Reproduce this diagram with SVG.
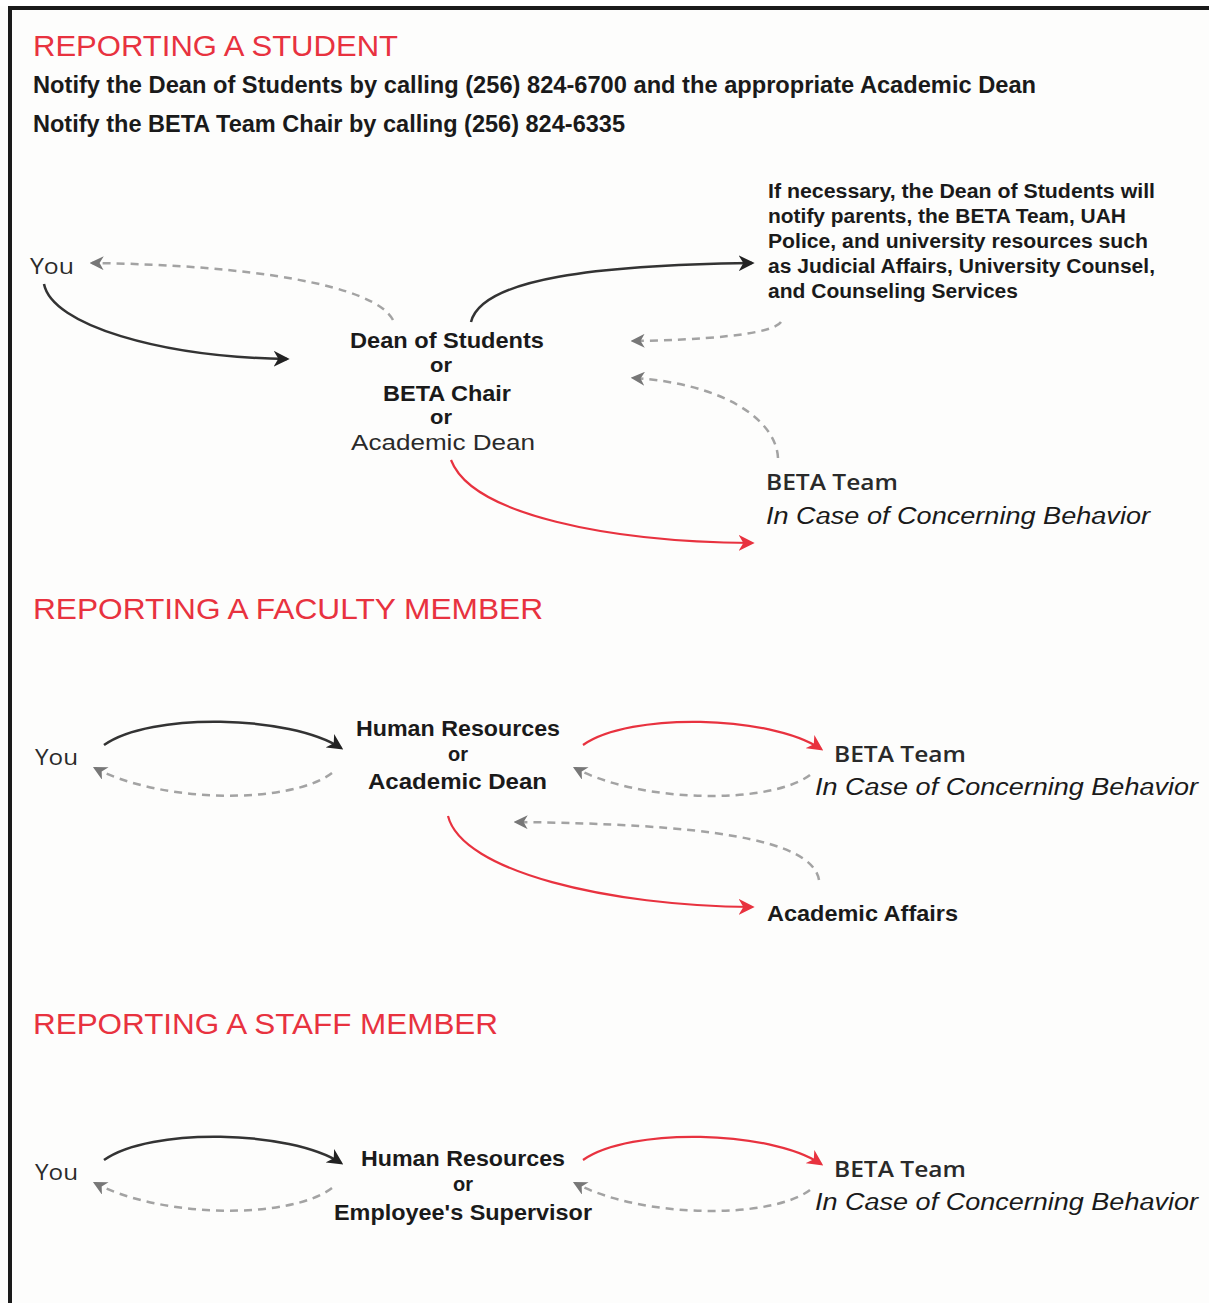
<svg xmlns="http://www.w3.org/2000/svg" width="1209" height="1303" viewBox="0 0 1209 1303">
<defs>
<style>
.h{font-family:"Liberation Sans",Arial,sans-serif;font-size:29px;fill:#e8323f;}
.b{font-family:"Liberation Sans",Arial,sans-serif;font-weight:bold;fill:#1a1a1a;}
.r{font-family:"Open Sans","Liberation Sans",sans-serif;fill:#2a2a2a;}
.l{font-family:"Liberation Sans",Arial,sans-serif;fill:#2a2a2a;}
.i{font-family:"Liberation Sans",Arial,sans-serif;font-style:italic;font-size:23px;fill:#1a1a1a;}
.solid{fill:none;stroke:#333;stroke-width:2.5;}
.red{fill:none;stroke:#e8323f;stroke-width:2.2;}
.dash{fill:none;stroke:#a3a3a3;stroke-width:2.5;stroke-dasharray:8 6;}
</style>
<marker id="ad" viewBox="0 0 12 12" refX="10" refY="6" markerWidth="16" markerHeight="16" markerUnits="userSpaceOnUse" orient="auto"><path d="M0,0 L12,6 L0,12 L3.5,6 z" fill="#222"/></marker>
<marker id="ar" viewBox="0 0 12 12" refX="10" refY="6" markerWidth="16" markerHeight="16" markerUnits="userSpaceOnUse" orient="auto"><path d="M0,0 L12,6 L0,12 L3.5,6 z" fill="#e8323f"/></marker>
<marker id="ag" viewBox="0 0 12 12" refX="10" refY="6" markerWidth="14" markerHeight="14" markerUnits="userSpaceOnUse" orient="auto"><path d="M0,0 L12,6 L0,12 L3.5,6 z" fill="#777"/></marker>
</defs>
<rect x="0" y="0" width="1209" height="1303" fill="#fdfdfc"/>
<rect x="0" y="0" width="1209" height="6" fill="#ffffff"/>
<line x1="8" y1="8" x2="1209" y2="8" stroke="#1a1a1a" stroke-width="4"/>
<line x1="10" y1="6" x2="10" y2="1303" stroke="#1a1a1a" stroke-width="4"/>

<g id="headings">
<text class="h" x="33" y="56" textLength="365" lengthAdjust="spacingAndGlyphs">REPORTING A STUDENT</text>
<text class="b" x="33" y="93" font-size="23" textLength="1003" lengthAdjust="spacingAndGlyphs">Notify the Dean of Students by calling (256) 824-6700 and the appropriate Academic Dean</text>
<text class="b" x="33" y="132" font-size="23" textLength="592" lengthAdjust="spacingAndGlyphs">Notify the BETA Team Chair by calling (256) 824-6335</text>
<text class="h" x="33" y="619" textLength="510" lengthAdjust="spacingAndGlyphs">REPORTING A FACULTY MEMBER</text>
<text class="h" x="33" y="1034" textLength="465" lengthAdjust="spacingAndGlyphs">REPORTING A STAFF MEMBER</text>
</g>

<g id="connectors">
<!-- section 1 -->
<path class="solid" d="M44,284 C52,325 160,357 287,359" marker-end="url(#ad)"/>
<path class="dash" d="M393,320 C375,285 250,265 92,263" marker-end="url(#ag)"/>
<path class="solid" d="M471,322 C482,278 600,265 752,263" marker-end="url(#ad)"/>
<path class="dash" d="M781,322 C772,335 700,340 633,341" marker-end="url(#ag)"/>
<path class="dash" d="M778,458 C776,418 720,383 633,378" marker-end="url(#ag)"/>
<path class="red" d="M451,460 C472,515 610,542 752,543" marker-end="url(#ar)"/>
<!-- section 2 -->
<path class="solid" d="M104,745 C150,712 290,715 341,748" marker-end="url(#ad)"/>
<path class="dash" d="M332,773 C290,805 160,803 95,768" marker-end="url(#ag)"/>
<path class="red" d="M583,745 C630,712 770,715 821,749" marker-end="url(#ar)"/>
<path class="dash" d="M810,775 C770,805 640,803 575,768" marker-end="url(#ag)"/>
<path class="dash" d="M819,880 C812,838 700,824 516,822" marker-end="url(#ag)"/>
<path class="red" d="M448,816 C462,872 610,906 752,907" marker-end="url(#ar)"/>
<!-- section 3 -->
<path class="solid" d="M104,1160 C150,1127 290,1130 341,1163" marker-end="url(#ad)"/>
<path class="dash" d="M332,1188 C290,1220 160,1218 95,1183" marker-end="url(#ag)"/>
<path class="red" d="M583,1160 C630,1127 770,1130 821,1164" marker-end="url(#ar)"/>
<path class="dash" d="M810,1190 C770,1220 640,1218 575,1183" marker-end="url(#ag)"/>
</g>

<g id="s1-you"><text class="r" x="30" y="274" font-size="22" textLength="44" lengthAdjust="spacingAndGlyphs">You</text></g>
<g id="s1-dean">
<text class="b" x="350" y="348" font-size="22" textLength="194" lengthAdjust="spacingAndGlyphs">Dean of Students</text>
<text class="b" x="430" y="372" font-size="20" textLength="22" lengthAdjust="spacingAndGlyphs">or</text>
<text class="b" x="383" y="401" font-size="22" textLength="128" lengthAdjust="spacingAndGlyphs">BETA Chair</text>
<text class="b" x="430" y="424" font-size="20" textLength="22" lengthAdjust="spacingAndGlyphs">or</text>
<text class="l" x="351" y="450" font-size="22" textLength="184" lengthAdjust="spacingAndGlyphs">Academic Dean</text>
</g>
<g id="s1-notify">
<text class="b" x="768" y="198" font-size="20" textLength="387" lengthAdjust="spacingAndGlyphs">If necessary, the Dean of Students will</text>
<text class="b" x="768" y="223" font-size="20" textLength="358" lengthAdjust="spacingAndGlyphs">notify parents, the BETA Team, UAH</text>
<text class="b" x="768" y="248" font-size="20" textLength="380" lengthAdjust="spacingAndGlyphs">Police, and university resources such</text>
<text class="b" x="768" y="273" font-size="20" textLength="387" lengthAdjust="spacingAndGlyphs">as Judicial Affairs, University Counsel,</text>
<text class="b" x="768" y="298" font-size="20" textLength="250" lengthAdjust="spacingAndGlyphs">and Counseling Services</text>
</g>
<g id="s1-beta">
<text class="r" x="766" y="490" font-size="22" font-weight="600" textLength="132" lengthAdjust="spacingAndGlyphs">BETA Team</text>
<text class="i" x="766" y="524" textLength="384" lengthAdjust="spacingAndGlyphs">In Case of Concerning Behavior</text>
</g>

<g id="s2-you"><text class="r" x="35" y="765" font-size="22" textLength="43" lengthAdjust="spacingAndGlyphs">You</text></g>
<g id="s2-hr">
<text class="b" x="356" y="736" font-size="22" textLength="204" lengthAdjust="spacingAndGlyphs">Human Resources</text>
<text class="b" x="448" y="761" font-size="20" textLength="20" lengthAdjust="spacingAndGlyphs">or</text>
<text class="b" x="368" y="789" font-size="22" textLength="179" lengthAdjust="spacingAndGlyphs">Academic Dean</text>
</g>
<g id="s2-beta">
<text class="r" x="834" y="762" font-size="22" font-weight="600" textLength="132" lengthAdjust="spacingAndGlyphs">BETA Team</text>
<text class="i" x="815" y="795" textLength="383" lengthAdjust="spacingAndGlyphs">In Case of Concerning Behavior</text>
</g>
<g id="s2-affairs"><text class="b" x="767" y="921" font-size="22" textLength="191" lengthAdjust="spacingAndGlyphs">Academic Affairs</text></g>

<g id="s3-you"><text class="r" x="35" y="1180" font-size="22" textLength="43" lengthAdjust="spacingAndGlyphs">You</text></g>
<g id="s3-hr">
<text class="b" x="361" y="1166" font-size="22" textLength="204" lengthAdjust="spacingAndGlyphs">Human Resources</text>
<text class="b" x="453" y="1191" font-size="20" textLength="20" lengthAdjust="spacingAndGlyphs">or</text>
<text class="b" x="334" y="1220" font-size="22" textLength="258" lengthAdjust="spacingAndGlyphs">Employee's Supervisor</text>
</g>
<g id="s3-beta">
<text class="r" x="834" y="1177" font-size="22" font-weight="600" textLength="132" lengthAdjust="spacingAndGlyphs">BETA Team</text>
<text class="i" x="815" y="1210" textLength="383" lengthAdjust="spacingAndGlyphs">In Case of Concerning Behavior</text>
</g>
</svg>
